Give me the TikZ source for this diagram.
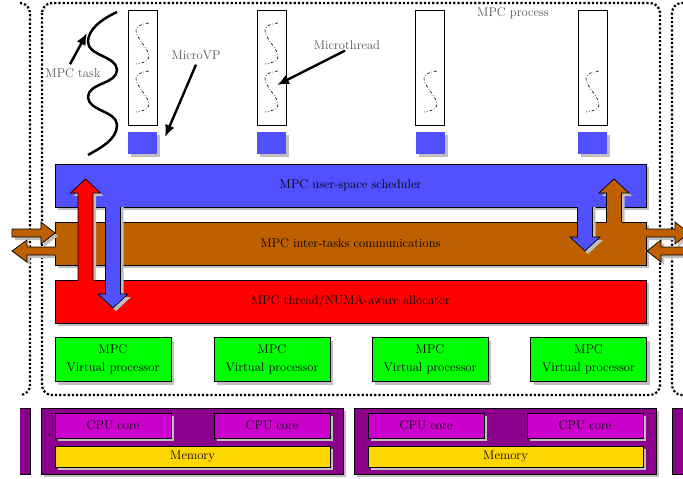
\documentclass[tikz,border=0pt]{standalone}
\usepackage{fontspec}
\usetikzlibrary{shadows,arrows.meta}
\definecolor{schedblue}{RGB}{80,80,255}
\definecolor{commbrown}{RGB}{191,96,0}
\definecolor{allocred}{RGB}{255,0,0}
\definecolor{vpgreen}{RGB}{0,255,0}
\definecolor{hwpurple}{RGB}{139,0,139}
\definecolor{cpumag}{RGB}{204,0,204}
\definecolor{memgold}{RGB}{255,215,0}
\definecolor{shadowgray}{RGB}{191,191,191}
\definecolor{annotgray}{RGB}{85,85,85}
\newcommand\figfont{\fontsize{12.6}{18}\selectfont}
\tikzset{
  shad/.style={drop shadow={shadow xshift=3pt,shadow yshift=-3pt,fill=shadowgray,opacity=1}},
  layerbox/.style={draw=black,line width=0.7pt,inner sep=0pt,shad,text=black},
  taskbox/.style={draw=black,line width=0.9pt,fill=white,inner sep=0pt,minimum width=29pt,minimum height=115pt},
  vpsq/.style={fill=schedblue,inner sep=0pt,minimum width=29pt,minimum height=22pt,shad},
  squig/.style={line width=0.6pt,dash dot},
  frame/.style={line width=2.2pt,dash pattern=on 2.2pt off 2pt,rounded corners=10pt},
  annot/.style={line width=2.4pt,-{Latex[length=12pt,width=10pt]}},
  annotlbl/.style={text=annotgray,inner sep=1pt},
  arrowline/.style={draw=black,line width=0.7pt,line join=miter},
}
\newcommand\mysquig[2]{\draw[squig] (#1+21,#2) .. controls (#1-18,#2+5) and (#1+47,#2+36) .. (#1+8,#2+41);}
\begin{document}
\begin{tikzpicture}[x=1pt,y=-1pt,font=\figfont]
\useasboundingbox (0,0) rectangle (683,479);

% process frames
\draw[frame] (42,3) rectangle (660,395);
\draw[frame] (20,3) -- (30,3) -- (30,395) -- (20,395);
\draw[frame] (692,3) -- (672,3) -- (672,395) -- (692,395);
\node[annotlbl] (lblproc) at (513,13) {MPC process};

% tasks / microVPs
\node[taskbox] (t1) at (142.5,67.5) {};
\node[taskbox] (t2) at (271.5,67.5) {};
\node[taskbox] (t3) at (430,67.5) {};
\node[taskbox] (t4) at (592.5,67.5) {};
\mysquig{128}{23}\mysquig{128}{71}
\mysquig{257}{23}\mysquig{257}{71}
\mysquig{416}{71}
\mysquig{578}{71}
\node[vpsq] (m1) at (142.5,143) {};
\node[vpsq] (m2) at (271.5,143) {};
\node[vpsq] (m3) at (430,143) {};
\node[vpsq] (m4) at (592.5,143) {};

% MPC task wave
\draw[line width=2.5pt] (117,12) .. controls (100,20) and (88,30) .. (88,42)
  .. controls (88,56) and (117,56) .. (117,70)
  .. controls (117,84) and (88,83) .. (88,97)
  .. controls (88,111) and (117,111) .. (117,125)
  .. controls (117,140) and (100,148) .. (88,155);

% annotations
\node[annotlbl] (lbltask) at (73,73) {MPC task};
\node[annotlbl] (lblvp) at (196,55) {MicroVP};
\node[annotlbl] (lblthread) at (347,45) {Microthread};
\coordinate (tiptask) at (87,33);
\coordinate (tipvp) at (165,137);
\coordinate (tipthread) at (277,85);
\draw[annot] ([shift={(-3pt,3pt)}]lbltask.north) -- (tiptask);
\draw[annot] ([yshift=-4pt]lblvp.south) -- (tipvp);
\draw[annot] ([xshift=-2pt]lblthread.south) -- (tipthread);

% layers
\node[layerbox,fill=schedblue,minimum width=591pt,minimum height=43pt] (sched) at (350.5,185.5) {MPC user-space scheduler};
\node[layerbox,fill=commbrown,minimum width=591pt,minimum height=43pt] (comm) at (350.5,243.5) {MPC inter-tasks communications};
\node[layerbox,fill=allocred,minimum width=591pt,minimum height=43pt] (alloc) at (350.5,301.5) {MPC thread/NUMA-aware allocator};

% arrow shadows
\fill[shadowgray] (81,280) -- (81,196) -- (73.5,196) -- (88.5,182) -- (103.5,196) -- (96,196) -- (96,280) -- cycle;
\fill[shadowgray] (108.5,207) -- (108.5,297) -- (101,297) -- (116,311) -- (131,297) -- (123.5,297) -- (123.5,207) -- cycle;
\fill[shadowgray] (580.5,207) -- (580.5,240) -- (573,240) -- (588,254) -- (603,240) -- (595.5,240) -- (595.5,207) -- cycle;
\fill[shadowgray] (609.5,222) -- (609.5,196) -- (602,196) -- (617,182) -- (632,196) -- (624.5,196) -- (624.5,222) -- cycle;
\fill[shadowgray] (15,232) -- (44,232) -- (44,225) -- (58,236) -- (44,247) -- (44,240) -- (15,240) -- cycle;
\fill[shadowgray] (55,250) -- (30,250) -- (30,243) -- (15,254) -- (30,265) -- (30,258) -- (55,258) -- cycle;
\fill[shadowgray] (649,232) -- (678,232) -- (678,225) -- (692,236) -- (678,247) -- (678,240) -- (649,240) -- cycle;
\fill[shadowgray] (703,250) -- (664,250) -- (664,243) -- (650,254) -- (664,265) -- (664,258) -- (703,258) -- cycle;

% red up arrow
\fill[allocred] (78,281) -- (78,193) -- (70.5,193) -- (85.5,179) -- (100.5,193) -- (93,193) -- (93,281) -- cycle;
\draw[arrowline] (78,280) -- (78,193) -- (70.5,193) -- (85.5,179) -- (100.5,193) -- (93,193) -- (93,280);
% blue down arrow (left)
\fill[schedblue] (105.5,206) -- (105.5,294) -- (98,294) -- (113,308) -- (128,294) -- (120.5,294) -- (120.5,206) -- cycle;
\draw[arrowline] (105.5,207) -- (105.5,294) -- (98,294) -- (113,308) -- (128,294) -- (120.5,294) -- (120.5,207);
% blue down arrow (right)
\fill[schedblue] (577.5,206) -- (577.5,237) -- (570,237) -- (585,251) -- (600,237) -- (592.5,237) -- (592.5,206) -- cycle;
\draw[arrowline] (577.5,207) -- (577.5,237) -- (570,237) -- (585,251) -- (600,237) -- (592.5,237) -- (592.5,207);
% brown up arrow (right)
\fill[commbrown] (606.5,223) -- (606.5,193) -- (599,193) -- (614,179) -- (629,193) -- (621.5,193) -- (621.5,223) -- cycle;
\draw[arrowline] (606.5,222) -- (606.5,193) -- (599,193) -- (614,179) -- (629,193) -- (621.5,193) -- (621.5,222);
% side arrows left
\filldraw[arrowline,fill=commbrown] (12,229) -- (41,229) -- (41,222) -- (55,233) -- (41,244) -- (41,237) -- (12,237) -- cycle;
\fill[commbrown] (56,247) -- (27,247) -- (27,240) -- (12,251) -- (27,262) -- (27,255) -- (56,255) -- cycle;
\draw[arrowline] (55,247) -- (27,247) -- (27,240) -- (12,251) -- (27,262) -- (27,255) -- (55,255);
% side arrows right
\fill[commbrown] (645,229) -- (675,229) -- (675,222) -- (689,233) -- (675,244) -- (675,237) -- (645,237) -- cycle;
\draw[arrowline] (646,229) -- (675,229) -- (675,222) -- (689,233) -- (675,244) -- (675,237) -- (646,237);
\filldraw[arrowline,fill=commbrown] (700,247) -- (661,247) -- (661,240) -- (647,251) -- (661,262) -- (661,255) -- (700,255) -- cycle;

% virtual processors
\foreach \i/\x in {1/113,2/272,3/430,4/588.5}{
  \node[layerbox,fill=vpgreen,minimum width=116pt,minimum height=44pt,align=center] (vp\i) at (\x,359.5) {MPC\\Virtual processor};
}

% hardware
\fill[hwpurple] (20,408) rectangle (30,474);
\draw[line width=0.7pt] (20,408) -- (30,408) -- (30,474) -- (20,474);
\fill[hwpurple] (672,408) rectangle (692,474);
\draw[line width=0.7pt] (692,408) -- (672,408) -- (672,474) -- (692,474);
\node[layerbox,fill=hwpurple,minimum width=302pt,minimum height=66pt] (hw1) at (192,441) {};
\node[layerbox,fill=hwpurple,minimum width=302pt,minimum height=66pt] (hw2) at (505,441) {};
\node[layerbox,fill=cpumag,minimum width=116pt,minimum height=25pt] (c1) at (113,425.5) {CPU core};
\node[layerbox,fill=cpumag,minimum width=116pt,minimum height=25pt] (c2) at (272,425.5) {CPU core};
\node[layerbox,fill=cpumag,minimum width=116pt,minimum height=25pt] (c3) at (426,425.5) {CPU core};
\node[layerbox,fill=cpumag,minimum width=116pt,minimum height=25pt] (c4) at (585,425.5) {CPU core};
\node[layerbox,fill=memgold,minimum width=275pt,minimum height=21pt] (mem1) at (192.5,456.5) {Memory};
\node[layerbox,fill=memgold,minimum width=275pt,minimum height=21pt] (mem2) at (505.5,456.5) {Memory};
\end{tikzpicture}
\end{document}
